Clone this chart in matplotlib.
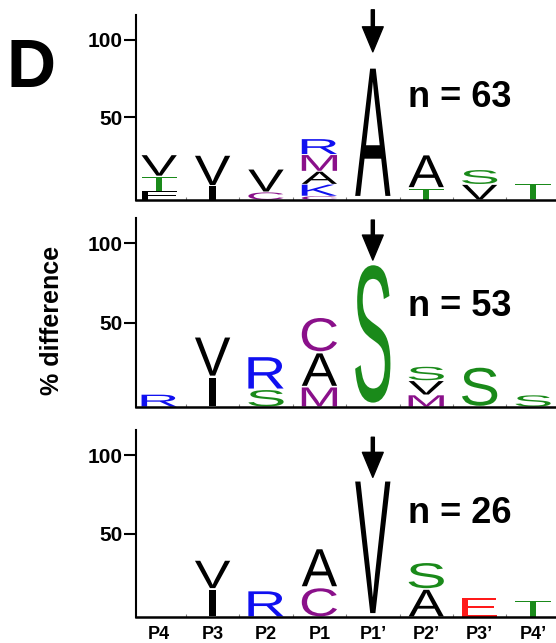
"""
Sequence logos: % difference at P4..P4' for three cleavage-site groups (panel D)
"""
import numpy as np
import matplotlib
matplotlib.use("Agg")
import matplotlib.pyplot as plt
from matplotlib.textpath import TextPath
from matplotlib.font_manager import FontProperties
from matplotlib.patches import PathPatch
from matplotlib.transforms import Affine2D

plt.rcParams["font.family"] = ["Liberation Sans", "DejaVu Sans"]

# ── data ──
POSITIONS = ["P4", "P3", "P2", "P1", "P1\u2019", "P2\u2019", "P3\u2019", "P4\u2019"]
N_SITES = [63, 53, 26]
CLEAVE_COL = 4  # index of P1'

# letter stacks, bottom -> top, (residue, % difference)
LOGO_TOP = [
    [("F", 5.7), ("T", 9.5), ("V", 14)],
    [("I", 9), ("V", 20)],
    [("C", 5), ("V", 15)],
    [("C", 2.5), ("K", 7.6), ("A", 8.3), ("M", 10.8), ("R", 10.2)],
    [("A", 87)],
    [("T", 7.6), ("A", 21.7)],
    [("V", 10), ("S", 9.5)],
    [("T", 10.8)],
]
LOGO_MID = [
    [("R", 8)],
    [("I", 19), ("V", 25.5)],
    [("S", 11), ("R", 21)],
    [("M", 12.7), ("A", 21.7), ("C", 22.3)],
    [("S", 92)],
    [("M", 7.6), ("V", 9), ("S", 9)],
    [("S", 25.5)],
    [("S", 7.6)],
]
LOGO_BOT = [
    [],
    [("I", 18), ("V", 18.5)],
    [("R", 17)],
    [("C", 19), ("A", 25)],
    [("V", 89)],
    [("A", 18), ("S", 17)],
    [("E", 12.8)],
    [("T", 11)],
]
LOGOS = [LOGO_TOP, LOGO_MID, LOGO_BOT]

COLORS = {
    "A": "black", "V": "black", "I": "black", "F": "black",
    "S": "#1a8a1a", "T": "#1a8a1a",
    "R": "#1010f0", "K": "#1010f0",
    "M": "#8a108a", "C": "#8a108a",
    "E": "#ff1a1a",
}

# layout (figure fractions) and arrow ends per panel
PANEL_BOX = [
    [0.245, 0.689, 0.755, 0.288],
    [0.245, 0.367, 0.755, 0.294],
    [0.245, 0.040, 0.755, 0.291],
]
ARROW_Y = [(119.2, 92.2), (114.7, 89.5), (111.5, 86.0)]
LABEL_Y = [63, 60, 63]
YMIN, YMAX = -3, 116
LETTER_FONT = FontProperties(family="Liberation Sans")


def draw_letter(ax, ch, x, y, w, h, color):
    tp = TextPath((0, 0), ch, size=1, prop=LETTER_FONT)
    bb = tp.get_extents()
    tr = (Affine2D().translate(-bb.x0, -bb.y0)
          .scale(w / bb.width, h / bb.height)
          .translate(x - w / 2, y))
    ax.add_patch(PathPatch(tr.transform_path(tp), facecolor=color,
                           edgecolor="none", lw=0))


fig = plt.figure(figsize=(5.56, 6.43), dpi=100)
xs = np.arange(1, len(POSITIONS) + 1)

for i, (logo, box) in enumerate(zip(LOGOS, PANEL_BOX)):
    ax = fig.add_axes(box)
    for x, stack in zip(xs, logo):
        y = YMIN
        for ch, h in stack:
            w = 0.14 if ch == "I" else 0.66
            draw_letter(ax, ch, x, y + h * 0.03, w, h * 0.94, COLORS[ch])
            y += h

    ax.set_xlim(0.57, 8.43)
    ax.set_ylim(YMIN, YMAX)
    for s in ("top", "right"):
        ax.spines[s].set_visible(False)
    ax.spines["left"].set_linewidth(1.5)
    ax.spines["bottom"].set_linewidth(1.8)

    ax.set_yticks([50, 100])
    ax.set_yticklabels(["50", "100"], fontsize=15, fontweight="bold")
    ax.tick_params(axis="y", length=9, width=1.5, pad=1)
    ax.set_xticks(xs)
    ax.set_xticks(xs[:-1] + 0.5, minor=True)
    ax.tick_params(axis="x", which="minor", length=2, width=0.8,
                   direction="in", color="0.5")
    if i == 2:
        ax.set_xticklabels(POSITIONS, fontsize=13, fontweight="bold")
        ax.tick_params(axis="x", which="major", length=0, pad=6)
    else:
        ax.set_xticklabels([])
        ax.tick_params(axis="x", which="major", length=0)

    tail, tip = ARROW_Y[i]
    ax.annotate("", xy=(xs[CLEAVE_COL], tip), xytext=(xs[CLEAVE_COL], tail),
                arrowprops=dict(facecolor="black", edgecolor="black",
                                width=2.2, headwidth=15, headlength=18, shrink=0),
                annotation_clip=False)
    ax.text(6.63, LABEL_Y[i], f"n = {N_SITES[i]}", fontsize=26,
            fontweight="bold", ha="center", va="center")

fig.text(0.012, 0.865, "D", fontsize=49, fontweight="bold",
         ha="left", va="baseline")
fig.text(0.094, 0.502, "% difference", fontsize=18, fontweight="bold",
         rotation=90, ha="center", va="center")

fig.savefig("out.png", dpi=100)
plt.close(fig)
